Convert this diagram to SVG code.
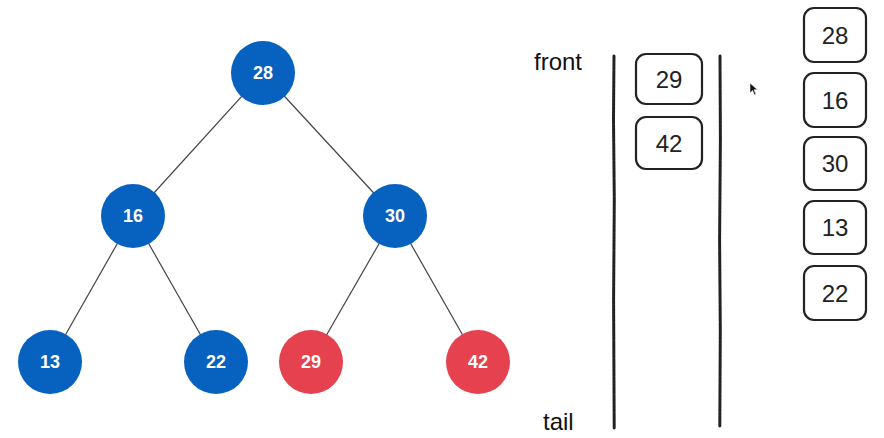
<svg xmlns="http://www.w3.org/2000/svg" width="884" height="438" viewBox="0 0 884 438">
  <style>
    .edge { stroke: #444; stroke-width: 1.2; fill: none; }
    .blue { fill: #0762BF; }
    .red { fill: #E5414F; }
    .nlabel { font-family: "Liberation Sans", Arial, sans-serif; font-size: 18px; font-weight: bold; fill: #fff; text-anchor: middle; }
    .box { fill: #fff; stroke: #222; stroke-width: 2.2; }
    .blabel { font-family: "Liberation Sans", Arial, sans-serif; font-size: 24px; fill: #222; text-anchor: middle; }
    .tag { font-family: "Liberation Sans", Arial, sans-serif; font-size: 24px; fill: #111; }
    .wall { stroke: #222; stroke-width: 3; fill: none; stroke-linecap: round; stroke-dasharray: 3 0.6; }
  </style>

  <!-- tree edges -->
  <g id="edges">
    <line class="edge" x1="263" y1="73" x2="133" y2="216"/>
    <line class="edge" x1="263" y1="73" x2="395" y2="216"/>
    <line class="edge" x1="133" y1="216" x2="50" y2="362"/>
    <line class="edge" x1="133" y1="216" x2="216" y2="362"/>
    <line class="edge" x1="395" y1="216" x2="311" y2="362"/>
    <line class="edge" x1="395" y1="216" x2="478" y2="362"/>
  </g>

  <!-- tree nodes -->
  <g id="n28"><circle class="blue" cx="263" cy="73" r="32"/><text class="nlabel" x="263" y="79">28</text></g>
  <g id="n16"><circle class="blue" cx="133" cy="216" r="32"/><text class="nlabel" x="133" y="222">16</text></g>
  <g id="n30"><circle class="blue" cx="395" cy="216" r="32"/><text class="nlabel" x="395" y="222">30</text></g>
  <g id="n13"><circle class="blue" cx="50" cy="362" r="32"/><text class="nlabel" x="50" y="368">13</text></g>
  <g id="n22"><circle class="blue" cx="216" cy="362" r="32"/><text class="nlabel" x="216" y="368">22</text></g>
  <g id="n29"><circle class="red" cx="311" cy="362" r="32"/><text class="nlabel" x="311" y="368">29</text></g>
  <g id="n42"><circle class="red" cx="478" cy="362" r="32"/><text class="nlabel" x="478" y="368">42</text></g>

  <!-- queue walls -->
  <g id="queue">
    <path class="wall" d="M614 56 L613.5 120 L614.3 200 L613.6 300 L614.2 428"/>
    <path class="wall" d="M720 56 L720.4 140 L719.6 240 L720.3 330 L719.8 426"/>
    <text class="tag" x="534" y="70">front</text>
    <text class="tag" x="543" y="430">tail</text>
  </g>

  <!-- queue contents -->
  <g id="q29"><rect class="box" x="636" y="54" width="66" height="50" rx="10"/><text class="blabel" x="669" y="88">29</text></g>
  <g id="q42"><rect class="box" x="636" y="117" width="66" height="52" rx="10"/><text class="blabel" x="669" y="152">42</text></g>

  <!-- visited order -->
  <g id="v28"><rect class="box" x="804" y="8" width="62" height="54" rx="10"/><text class="blabel" x="835" y="44">28</text></g>
  <g id="v16"><rect class="box" x="804" y="73" width="62" height="54" rx="10"/><text class="blabel" x="835" y="109">16</text></g>
  <g id="v30"><rect class="box" x="804" y="137" width="62" height="53" rx="10"/><text class="blabel" x="835" y="172">30</text></g>
  <g id="v13"><rect class="box" x="804" y="201" width="62" height="53" rx="10"/><text class="blabel" x="835" y="236">13</text></g>
  <g id="v22"><rect class="box" x="804" y="266" width="62" height="54" rx="10"/><text class="blabel" x="835" y="302">22</text></g>

  <!-- pointer -->
  <path d="M750 83 L750 93 L752.5 90.5 L754.5 95 L756 94.3 L754 89.8 L757.5 89.8 Z" fill="#111" stroke="#fff" stroke-width="0.6"/>
</svg>
